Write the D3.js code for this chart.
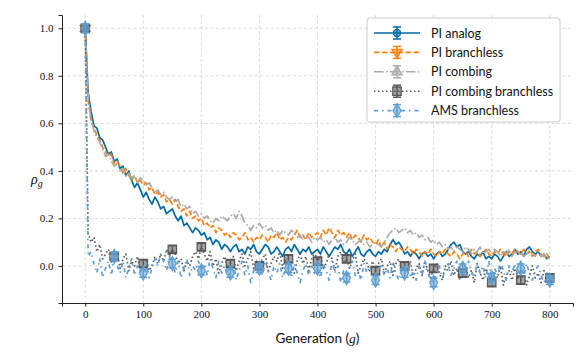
<!DOCTYPE html>
<html>
<head>
<meta charset="utf-8">
<script src="https://cdn.jsdelivr.net/npm/d3@7"></script>
<style>
  body { margin: 0; background: #fff; }
  svg { display: block; }
</style>
</head>
<body>
<div id="chart"></div>
<script>
// generations are sampled every 5 steps
const step = 5;
const xTicks = [0, 100, 200, 300, 400, 500, 600, 700, 800];
const yTicks = [0.0, 0.2, 0.4, 0.6, 0.8, 1.0];

const seriesNames = ["PI analog", "PI branchless", "PI combing", "PI combing branchless", "AMS branchless"];

const piAnalog = [
  1.00, 0.73, 0.65, 0.59, 0.58, 0.54, 0.53, 0.50, 0.47, 0.48,
  0.44, 0.45, 0.41, 0.42, 0.38, 0.40, 0.36, 0.33, 0.35, 0.32,
  0.29, 0.31, 0.28, 0.26, 0.29, 0.27, 0.24, 0.25, 0.22, 0.23,
  0.24, 0.21, 0.19, 0.21, 0.17, 0.18, 0.16, 0.14, 0.16, 0.15,
  0.13, 0.14, 0.11, 0.12, 0.09, 0.11, 0.10, 0.07, 0.09, 0.08,
  0.06, 0.08, 0.09, 0.06, 0.07, 0.05, 0.08, 0.07, 0.09, 0.06,
  0.05, 0.07, 0.09, 0.08, 0.05, 0.06, 0.08, 0.06, 0.04, 0.07,
  0.08, 0.06, 0.09, 0.07, 0.05, 0.07, 0.06, 0.08, 0.05, 0.06,
  0.07, 0.05, 0.08, 0.06, 0.04, 0.06, 0.08, 0.07, 0.09, 0.06,
  0.05, 0.07, 0.04, 0.06, 0.08, 0.05, 0.04, 0.06, 0.07, 0.05,
  0.04, 0.06, 0.05, 0.07, 0.06, 0.09, 0.11, 0.09, 0.10, 0.08,
  0.05, 0.06, 0.04, 0.06, 0.05, 0.03, 0.05, 0.06, 0.04, 0.05,
  0.03, 0.05, 0.06, 0.04, 0.05, 0.07, 0.09, 0.10, 0.08, 0.09,
  0.06, 0.05, 0.06, 0.04, 0.03, 0.05, 0.04, 0.06, 0.03, 0.04,
  0.03, 0.05, 0.04, 0.02, 0.04, 0.06, 0.04, 0.05, 0.07, 0.05,
  0.06, 0.04, 0.07, 0.08, 0.06, 0.05, 0.06, 0.04, 0.05, 0.03,
  0.04
];

const piBranchless = [
  1.00, 0.70, 0.61, 0.58, 0.55, 0.53, 0.50, 0.48, 0.46, 0.47,
  0.43, 0.44, 0.42, 0.39, 0.41, 0.38, 0.36, 0.38, 0.35, 0.36,
  0.34, 0.35, 0.32, 0.33, 0.30, 0.31, 0.29, 0.30, 0.27, 0.28,
  0.26, 0.28, 0.25, 0.23, 0.24, 0.21, 0.23, 0.20, 0.21, 0.19,
  0.20, 0.17, 0.18, 0.16, 0.17, 0.14, 0.16, 0.15, 0.13, 0.14,
  0.12, 0.14, 0.13, 0.11, 0.12, 0.14, 0.11, 0.12, 0.10, 0.12,
  0.11, 0.13, 0.12, 0.10, 0.13, 0.12, 0.14, 0.11, 0.12, 0.10,
  0.12, 0.11, 0.13, 0.15, 0.12, 0.13, 0.11, 0.14, 0.12, 0.13,
  0.14, 0.12, 0.15, 0.13, 0.16, 0.14, 0.12, 0.15, 0.13, 0.14,
  0.12, 0.14, 0.11, 0.13, 0.12, 0.10, 0.13, 0.11, 0.12, 0.10,
  0.09, 0.11, 0.08, 0.10, 0.07, 0.09, 0.08, 0.06, 0.08, 0.07,
  0.06, 0.08, 0.07, 0.05, 0.07, 0.06, 0.04, 0.06, 0.05, 0.07,
  0.05, 0.04, 0.06, 0.05, 0.07, 0.05, 0.04, 0.06, 0.05, 0.03,
  0.05, 0.06, 0.04, 0.07, 0.05, 0.06, 0.04, 0.05, 0.07, 0.05,
  0.04, 0.06, 0.05, 0.07, 0.05, 0.04, 0.06, 0.05, 0.07, 0.06,
  0.05, 0.07, 0.05, 0.06, 0.04, 0.06, 0.07, 0.05, 0.04, 0.05,
  0.03
];

const piCombing = [
  1.00, 0.71, 0.62, 0.57, 0.54, 0.52, 0.49, 0.46, 0.47, 0.44,
  0.42, 0.43, 0.40, 0.41, 0.38, 0.39, 0.37, 0.38, 0.35, 0.37,
  0.36, 0.34, 0.35, 0.33, 0.31, 0.32, 0.30, 0.31, 0.29, 0.28,
  0.29, 0.27, 0.28, 0.25, 0.26, 0.24, 0.25, 0.22, 0.23, 0.21,
  0.22, 0.20, 0.21, 0.19, 0.18, 0.20, 0.19, 0.21, 0.20, 0.19,
  0.21, 0.22, 0.20, 0.23, 0.21, 0.18, 0.17, 0.15, 0.17, 0.16,
  0.18, 0.16, 0.17, 0.15, 0.16, 0.14, 0.15, 0.13, 0.15, 0.14,
  0.13, 0.15, 0.14, 0.12, 0.13, 0.11, 0.13, 0.12, 0.10, 0.12,
  0.11, 0.12, 0.10, 0.11, 0.09, 0.11, 0.12, 0.10, 0.11, 0.09,
  0.10, 0.12, 0.11, 0.09, 0.10, 0.11, 0.09, 0.10, 0.08, 0.09,
  0.10, 0.09, 0.08, 0.10, 0.12, 0.14, 0.15, 0.16, 0.14, 0.15,
  0.16, 0.14, 0.15, 0.13, 0.14, 0.12, 0.13, 0.11, 0.12, 0.10,
  0.11, 0.09, 0.10, 0.08, 0.09, 0.07, 0.08, 0.06, 0.08, 0.07,
  0.06, 0.08, 0.07, 0.05, 0.07, 0.06, 0.08, 0.05, 0.06, 0.07,
  0.05, 0.07, 0.06, 0.04, 0.06, 0.05, 0.07, 0.04, 0.06, 0.05,
  0.06, 0.04, 0.05, 0.07, 0.05, 0.04, 0.06, 0.04, 0.05, 0.03,
  0.04
];

const piCombingBranchless = [
  1.00, 0.14, 0.10, 0.12, 0.06, 0.09, 0.03, 0.05, 0.07, 0.01,
  0.04, 0.06, -0.01, 0.03, 0.05, -0.02, 0.02, 0.00, 0.04, -0.02,
  0.01, 0.03, -0.02, 0.00, 0.04, 0.01, 0.05, 0.02, 0.07, 0.04,
  0.07, 0.05, 0.01, 0.03, -0.02, 0.02, 0.00, 0.04, 0.06, 0.03,
  0.08, 0.05, 0.02, 0.06, 0.00, 0.03, -0.03, 0.01, 0.04, -0.01,
  0.01, 0.04, -0.02, 0.02, 0.05, 0.00, 0.03, 0.06, -0.01, 0.02,
  0.00, 0.03, 0.05, -0.02, 0.01, 0.04, 0.02, 0.06, -0.01, 0.03,
  0.03, 0.00, -0.03, 0.02, 0.05, 0.01, 0.04, -0.02, 0.03, 0.06,
  0.02, 0.04, -0.01, 0.01, 0.05, 0.03, -0.02, 0.04, 0.06, 0.01,
  0.03, -0.01, 0.02, 0.05, -0.03, 0.00, 0.03, 0.01, -0.02, 0.02,
  -0.02, 0.01, 0.03, -0.03, 0.00, 0.02, -0.04, 0.01, 0.03, -0.01,
  0.00, -0.03, 0.02, -0.05, -0.01, 0.01, -0.04, 0.02, -0.02, -0.05,
  -0.01, 0.01, -0.03, -0.06, 0.00, -0.02, 0.02, -0.04, -0.01, -0.06,
  -0.03, 0.00, -0.05, -0.02, -0.07, 0.01, -0.03, -0.06, -0.01, -0.04,
  -0.07, -0.03, -0.05, 0.00, -0.08, -0.04, -0.02, -0.06, -0.01, -0.05,
  -0.06, -0.02, -0.08, -0.04, 0.00, -0.05, -0.03, -0.07, -0.02, -0.04,
  -0.05
];

const amsBranchless = [
  1.00, 0.04, 0.06, 0.01, -0.03, 0.03, -0.05, -0.01, 0.02, -0.04,
  0.04, 0.00, -0.03, 0.02, -0.05, -0.01, 0.03, -0.04, 0.00, -0.02,
  -0.03, 0.01, -0.05, -0.01, 0.03, 0.00, 0.05, 0.02, -0.02, 0.04,
  0.01, -0.03, 0.02, -0.05, -0.01, 0.03, -0.04, 0.00, -0.02, 0.02,
  -0.02, 0.01, -0.04, 0.03, -0.01, -0.05, 0.02, -0.03, 0.00, -0.04,
  -0.03, 0.01, -0.06, -0.02, 0.02, -0.04, 0.00, -0.07, -0.02, 0.01,
  -0.01, -0.04, 0.02, -0.02, -0.06, 0.00, -0.03, 0.01, -0.05, -0.01,
  -0.01, -0.05, 0.01, -0.03, -0.07, -0.02, 0.01, -0.04, 0.00, -0.03,
  -0.01, -0.05, 0.01, -0.02, -0.06, 0.02, -0.03, 0.00, -0.07, -0.02,
  -0.05, -0.01, 0.02, -0.04, -0.02, -0.06, 0.01, -0.03, 0.00, -0.05,
  -0.06, -0.02, 0.01, -0.04, -0.01, -0.05, 0.02, -0.03, -0.06, 0.00,
  -0.03, 0.01, -0.05, -0.02, -0.06, 0.00, -0.04, 0.02, -0.03, -0.06,
  -0.07, -0.03, 0.00, -0.05, -0.02, 0.01, -0.04, -0.01, 0.02, -0.03,
  -0.01, -0.04, 0.02, -0.02, -0.05, 0.01, -0.03, 0.00, -0.05, 0.02,
  -0.05, -0.01, -0.04, 0.02, -0.02, -0.06, 0.00, -0.03, 0.01, -0.04,
  -0.01, -0.05, 0.01, -0.03, -0.06, -0.02, 0.00, -0.04, -0.07, -0.03,
  -0.06
];

// spacing of error-bar markers per series (first three only marked at g = 0)
const markEvery = [1000, 1000, 1000, 50, 50];
const errHalf = [0.012, 0.012, 0.012, 0.015, 0.018];

const seriesValues = [piAnalog, piBranchless, piCombing, piCombingBranchless, amsBranchless];
const colors = ["#006BA4", "#FF800E", "#ABABAB", "#595959", "#5F9ED1"];
const dashes = [null, "5.5,2.4", "9.6,2.4,1.5,2.4", "1.5,2.5", "4,4,1.5,4"];
const symbols = ["circle", "triangleDown", "triangleUp", "square", "diamond"];

const W = 587, H = 363;
const margin = { top: 15, right: 14, bottom: 60, left: 62 };

const svg = d3.select("#chart").append("svg")
  .attr("width", W).attr("height", H)
  .attr("viewBox", [0, 0, W, H]);

const x = d3.scaleLinear().domain([-40, 840]).range([margin.left, W - margin.right]);
const y = d3.scaleLinear().domain([-0.156, 1.056]).range([H - margin.bottom, margin.top]);

// grid
svg.append("g").selectAll("line").data(xTicks).join("line")
  .attr("x1", d => x(d)).attr("x2", d => x(d))
  .attr("y1", y.range()[1]).attr("y2", y.range()[0])
  .attr("stroke", "#d0d0d0").attr("stroke-width", 0.8).attr("stroke-dasharray", "3,2.5");
svg.append("g").selectAll("line").data(yTicks).join("line")
  .attr("x1", x.range()[0]).attr("x2", x.range()[1])
  .attr("y1", d => y(d)).attr("y2", d => y(d))
  .attr("stroke", "#d0d0d0").attr("stroke-width", 0.8).attr("stroke-dasharray", "3,2.5");

const gens = d3.range(0, 801, step);

function symbolPath(name, size) {
  const types = {
    circle: d3.symbolCircle, triangleDown: d3.symbolTriangle, triangleUp: d3.symbolTriangle,
    square: d3.symbolSquare, diamond: d3.symbolDiamond
  };
  return d3.symbol().type(types[name]).size(size)();
}

function drawMarker(g, cx, cy, i, err) {
  const c = colors[i];
  // error bar
  g.append("line").attr("x1", cx).attr("x2", cx)
    .attr("y1", cy - err).attr("y2", cy + err)
    .attr("stroke", c).attr("stroke-width", 1.5);
  [cy - err, cy + err].forEach(yy => g.append("line")
    .attr("x1", cx - 4).attr("x2", cx + 4).attr("y1", yy).attr("y2", yy)
    .attr("stroke", c).attr("stroke-width", 1.5));
  const sizes = [40, 45, 45, 70, 55];
  let rot = symbols[i] === "triangleDown" ? 180 : 0;
  g.append("path")
    .attr("d", symbolPath(symbols[i], sizes[i]))
    .attr("transform", `translate(${cx},${cy}) rotate(${rot})`)
    .attr("fill", c).attr("fill-opacity", 0.55)
    .attr("stroke", c).attr("stroke-width", 1.3);
}

const line = d3.line().x(d => x(d[0])).y(d => y(d[1]));

seriesValues.forEach((vals, i) => {
  const pts = gens.map((g, k) => [g, vals[k]]);
  const g = svg.append("g");
  g.append("path").datum(pts)
    .attr("d", line)
    .attr("fill", "none")
    .attr("stroke", colors[i])
    .attr("stroke-width", 1.7)
    .attr("stroke-linejoin", "round")
    .attr("stroke-dasharray", dashes[i]);
  pts.filter(p => p[0] % markEvery[i] === 0).forEach(p => {
    const err = y(p[1] - errHalf[i]) - y(p[1]);
    drawMarker(g, x(p[0]), y(p[1]), i, err);
  });
});

// axes
const xAxis = svg.append("g")
  .attr("transform", `translate(0,${H - margin.bottom})`)
  .call(d3.axisBottom(x).tickValues(xTicks).tickSize(3.5).tickPadding(4).tickFormat(d3.format("d")));
const yAxis = svg.append("g")
  .attr("transform", `translate(${margin.left},0)`)
  .call(d3.axisLeft(y).tickValues(yTicks).tickSize(3.5).tickPadding(5).tickFormat(d3.format(".1f")));
[xAxis, yAxis].forEach(a => {
  a.select(".domain").attr("stroke", "#222").attr("stroke-width", 1);
  a.selectAll(".tick line").attr("stroke", "#222");
  a.selectAll(".tick text")
    .attr("font-family", "'Liberation Serif', 'DejaVu Serif', serif")
    .attr("font-size", 11).attr("fill", "#111");
});

// axis labels
const xl = svg.append("text")
  .attr("x", (x.range()[0] + x.range()[1]) / 2).attr("y", 343)
  .attr("text-anchor", "middle")
  .attr("font-family", "Lato, 'Open Sans', sans-serif").attr("font-size", 13.5).attr("fill", "#111");
xl.append("tspan").text("Generation (");
xl.append("tspan").attr("font-family", "'Liberation Serif', serif").attr("font-style", "italic").text("g");
xl.append("tspan").text(")");

const yl = svg.append("text")
  .attr("x", 31).attr("y", 184)
  .attr("font-family", "'Liberation Serif', serif").attr("font-style", "italic")
  .attr("font-size", 14).attr("fill", "#111");
yl.append("tspan").text("ρ");
yl.append("tspan").attr("font-size", 10).attr("dy", 3).text("g");

// legend
const leg = svg.append("g").attr("transform", "translate(367,18)");
const legBox = leg.append("rect")
  .attr("height", 104).attr("rx", 3)
  .attr("fill", "#fff").attr("fill-opacity", 0.85)
  .attr("stroke", "#cccccc").attr("stroke-width", 1);
let maxW = 0;
seriesNames.forEach((name, i) => {
  const cy = 15 + i * 19.4;
  const g = leg.append("g");
  g.append("line").attr("x1", 7).attr("x2", 53).attr("y1", cy).attr("y2", cy)
    .attr("stroke", colors[i]).attr("stroke-width", 1.6)
    .attr("stroke-dasharray", dashes[i]);
  drawMarker(g, 30, cy, i, 6);
  const t = g.append("text").attr("x", 64).attr("y", cy + 4.5)
    .attr("font-family", "Lato, 'Open Sans', sans-serif").attr("font-size", 12.5).attr("fill", "#111")
    .text(name);
  maxW = Math.max(maxW, t.node().getComputedTextLength());
});
legBox.attr("width", 64 + maxW + 7);
</script>
</body>
</html>
